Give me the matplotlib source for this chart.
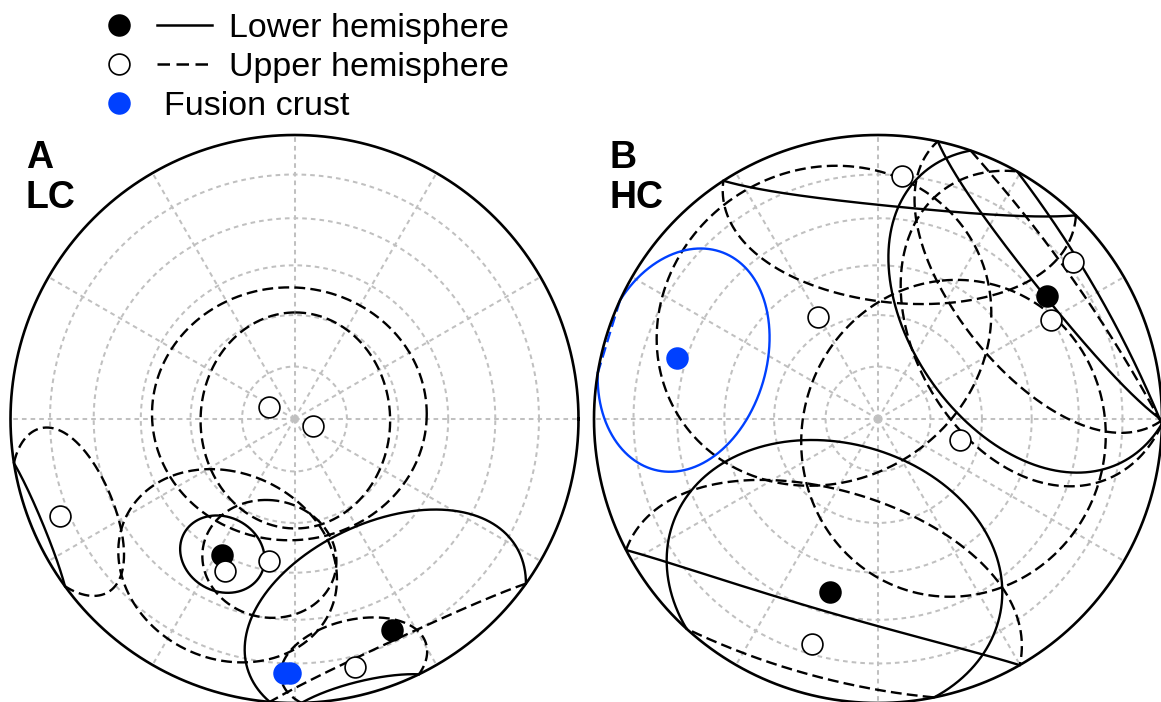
import numpy as np
import matplotlib.pyplot as plt

plt.rcParams['font.family'] = ['Liberation Sans', 'DejaVu Sans']

# ---- A (LC): mean directions, inc < 0 means upper hemisphere
lc_dec = [294.9, 110.7, 247.5, 208.1, 204.6, 190.2, 155.2, 166.3, 182.4, 181.0]
lc_inc = [-82.1, -84.4, -11.6, 44.9, -40.8, -48.0, 19.3, -11.1, 11.5, 11.5]
lc_crust = [0, 0, 0, 0, 0, 0, 0, 0, 1, 1]

# confidence ellipses: centre, semi-axes (deg), net azimuth of first axis
lc_el_dec = [315.0, 150.0, 247.5, 208.1, 190.2, 204.6, 155.2, 166.3]
lc_el_inc = [-87.8, -89.5, -13.0, 44.9, -48.0, -40.8, 19.3, -11.1]
lc_el_a = [40.0, 31.2, 17.5, 11.5, 18.0, 29.5, 35.0, 16.5]
lc_el_b = [36.7, 27.3, 20.0, 11.5, 18.0, 29.5, 35.0, 16.5]
lc_el_az = [90, 0, 247.5, 0, 0, 0, 0, 0]
lc_el_crust = [0, 0, 0, 0, 0, 0, 0, 0]

# ---- B (HC)
hc_dec = [5.6, 51.2, 54.0, 60.2, 329.8, 287.0, 104.4, 195.5, 196.3]
hc_inc = [-15.1, -12.9, 27.3, -30.5, -55.7, 27.0, -65.7, 36.9, -18.5]
hc_crust = [0, 0, 0, 0, 0, 1, 0, 0, 0]

hc_el_dec = [5.6, 51.2, 55.0, 60.2, 329.8, 287.0, 104.4, 195.5, 196.3]
hc_el_inc = [-15.1, -12.9, 27.3, -30.5, -55.7, 27.0, -65.7, 36.9, -18.5]
hc_el_a = [41.0, 40.8, 44.0, 42.3, 48.0, 28.0, 45.5, 44.5, 49.0]
hc_el_b = [41.0, 40.8, 44.0, 42.3, 48.0, 28.0, 45.5, 44.5, 49.0]
hc_el_az = [0, 0, 0, 0, 0, 0, 0, 0, 0]
hc_el_crust = [0, 0, 0, 0, 0, 1, 0, 0, 0]

ring_inc = [15, 30, 45, 60, 75]
spoke_az = list(range(0, 360, 30))

BLUE = '#0040ff'
GRID = '#c0c0c0'
DASH = (0, (4.6, 2.2))
LW = 1.7


def eqarea(dec, inc):
    d = np.radians(np.asarray(dec, float))
    r = np.sqrt(1 - np.abs(np.sin(np.radians(np.asarray(inc, float)))))
    return r * np.sin(d), r * np.cos(d)


def cone(dec, inc, a, b, az, n=1440):
    D, I = np.radians(dec), np.radians(inc)
    c = np.array([np.cos(I) * np.cos(D), np.cos(I) * np.sin(D), np.sin(I)])
    s = 1.0 if inc >= 0 else -1.0
    er = s * np.array([np.sin(I) * np.cos(D), np.sin(I) * np.sin(D), -np.cos(I)])
    et = np.array([-np.sin(D), np.cos(D), 0.0])
    psi = np.radians(az - dec)
    u1 = np.cos(psi) * er + np.sin(psi) * et
    u2 = -np.sin(psi) * er + np.cos(psi) * et
    t = np.linspace(0, 2 * np.pi, n, endpoint=False)
    sa = np.sin(np.radians(a)) * np.cos(t)
    sb = np.sin(np.radians(b)) * np.sin(t)
    w = np.sqrt(1 - sa ** 2 - sb ** 2)
    v = np.outer(w, c) + np.outer(sa, u1) + np.outer(sb, u2)
    nn, ee, dd = v.T
    h = np.hypot(nn, ee)
    r = np.sqrt(1 - np.abs(dd))
    return r * ee / h, r * nn / h, dd > 0


def draw_cone(ax, dec, inc, a, b, az, color):
    # lower-hemisphere part solid, upper part dashed
    x, y, low = cone(dec, inc, a, b, az)
    kw = dict(color=color, lw=LW, zorder=2)
    ch = np.nonzero(low != np.roll(low, 1))[0]
    if len(ch) == 0:
        ls = '-' if low[0] else DASH
        ax.plot(np.append(x, x[0]), np.append(y, y[0]), ls=ls, **kw)
        return
    k = ch[0]
    x, y, low = np.roll(x, -k), np.roll(y, -k), np.roll(low, -k)
    starts = np.nonzero(low != np.roll(low, 1))[0]
    ends = list(starts[1:]) + [len(x)]
    for s0, e0 in zip(starts, ends):
        idx = np.arange(s0, e0 + 1) % len(x)
        ls = '-' if low[s0] else DASH
        ax.plot(x[idx], y[idx], ls=ls, **kw)


def stereonet(ax, dec, inc, crust, el_dec, el_inc, el_a, el_b, el_az, el_crust):
    t = np.linspace(0, 2 * np.pi, 721)
    for ri in ring_inc:
        r = np.sqrt(1 - np.sin(np.radians(ri)))
        ax.plot(r * np.cos(t), r * np.sin(t), color=GRID, lw=1.45,
                ls=(0, (2.3, 2.0)), zorder=1)
    for az in spoke_az:
        ax.plot([0, np.sin(np.radians(az))], [0, np.cos(np.radians(az))],
                color=GRID, lw=1.45, ls=(0, (2.3, 2.0)), zorder=1)
    ax.plot(np.cos(t), np.sin(t), color='k', lw=1.9, zorder=3)

    for i in range(len(el_dec)):
        draw_cone(ax, el_dec[i], el_inc[i], el_a[i], el_b[i], el_az[i],
                  BLUE if el_crust[i] else 'k')

    for i in range(len(dec)):
        x, y = eqarea(dec[i], inc[i])
        if crust[i]:
            fc, ec = BLUE, BLUE
        elif inc[i] >= 0:
            fc, ec = 'k', 'k'
        else:
            fc, ec = 'white', 'k'
        ax.plot(x, y, 'o', ms=15, mfc=fc, mec=ec, mew=1.2, zorder=4)

    ax.set_xlim(-1.03, 1.03)
    ax.set_ylim(-1.03, 1.03)
    ax.set_aspect('equal')
    ax.axis('off')


W, H = 1161, 702
fig = plt.figure(figsize=(W / 100, H / 100), dpi=100)

R = 284
half = 1.03 * R
for cx, cy, args in [(294.5, 419, (lc_dec, lc_inc, lc_crust, lc_el_dec, lc_el_inc,
                                   lc_el_a, lc_el_b, lc_el_az, lc_el_crust)),
                     (878, 419, (hc_dec, hc_inc, hc_crust, hc_el_dec, hc_el_inc,
                                 hc_el_a, hc_el_b, hc_el_az, hc_el_crust))]:
    ax = fig.add_axes([(cx - half) / W, (H - cy - half) / H, 2 * half / W, 2 * half / H])
    stereonet(ax, *args)

fig.text(26 / W, 1 - 168 / H, 'A', fontsize=27, fontweight='bold', va='baseline')
fig.text(25 / W, 1 - 208 / H, 'LC', fontsize=27, fontweight='bold', va='baseline')
fig.text(610 / W, 1 - 168 / H, 'B', fontsize=27, fontweight='bold', va='baseline')
fig.text(610 / W, 1 - 208 / H, 'HC', fontsize=27, fontweight='bold', va='baseline')

# legend
lg = fig.add_axes([0, 0, 1, 1], facecolor='none')
lg.set_xlim(0, W)
lg.set_ylim(H, 0)
lg.axis('off')
rows = [25, 64, 103]
lg.plot(119, rows[0], 'o', ms=15, mfc='k', mec='k', mew=1.2)
lg.plot(119, rows[1], 'o', ms=15, mfc='white', mec='k', mew=1.2)
lg.plot(119, rows[2], 'o', ms=15, mfc=BLUE, mec=BLUE, mew=1.2)
lg.plot([157, 212], [rows[0], rows[0]], color='k', lw=1.8)
lg.plot([157, 212], [rows[1], rows[1]], color='k', lw=1.8, ls=(0, (5, 2.6)))
lg.text(229, rows[0] + 12, 'Lower hemisphere', fontsize=24.5, va='baseline')
lg.text(229, rows[1] + 12, 'Upper hemisphere', fontsize=24.5, va='baseline')
lg.text(164, rows[2] + 12, 'Fusion crust', fontsize=24.5, va='baseline')

fig.savefig('out.png', dpi=100)
